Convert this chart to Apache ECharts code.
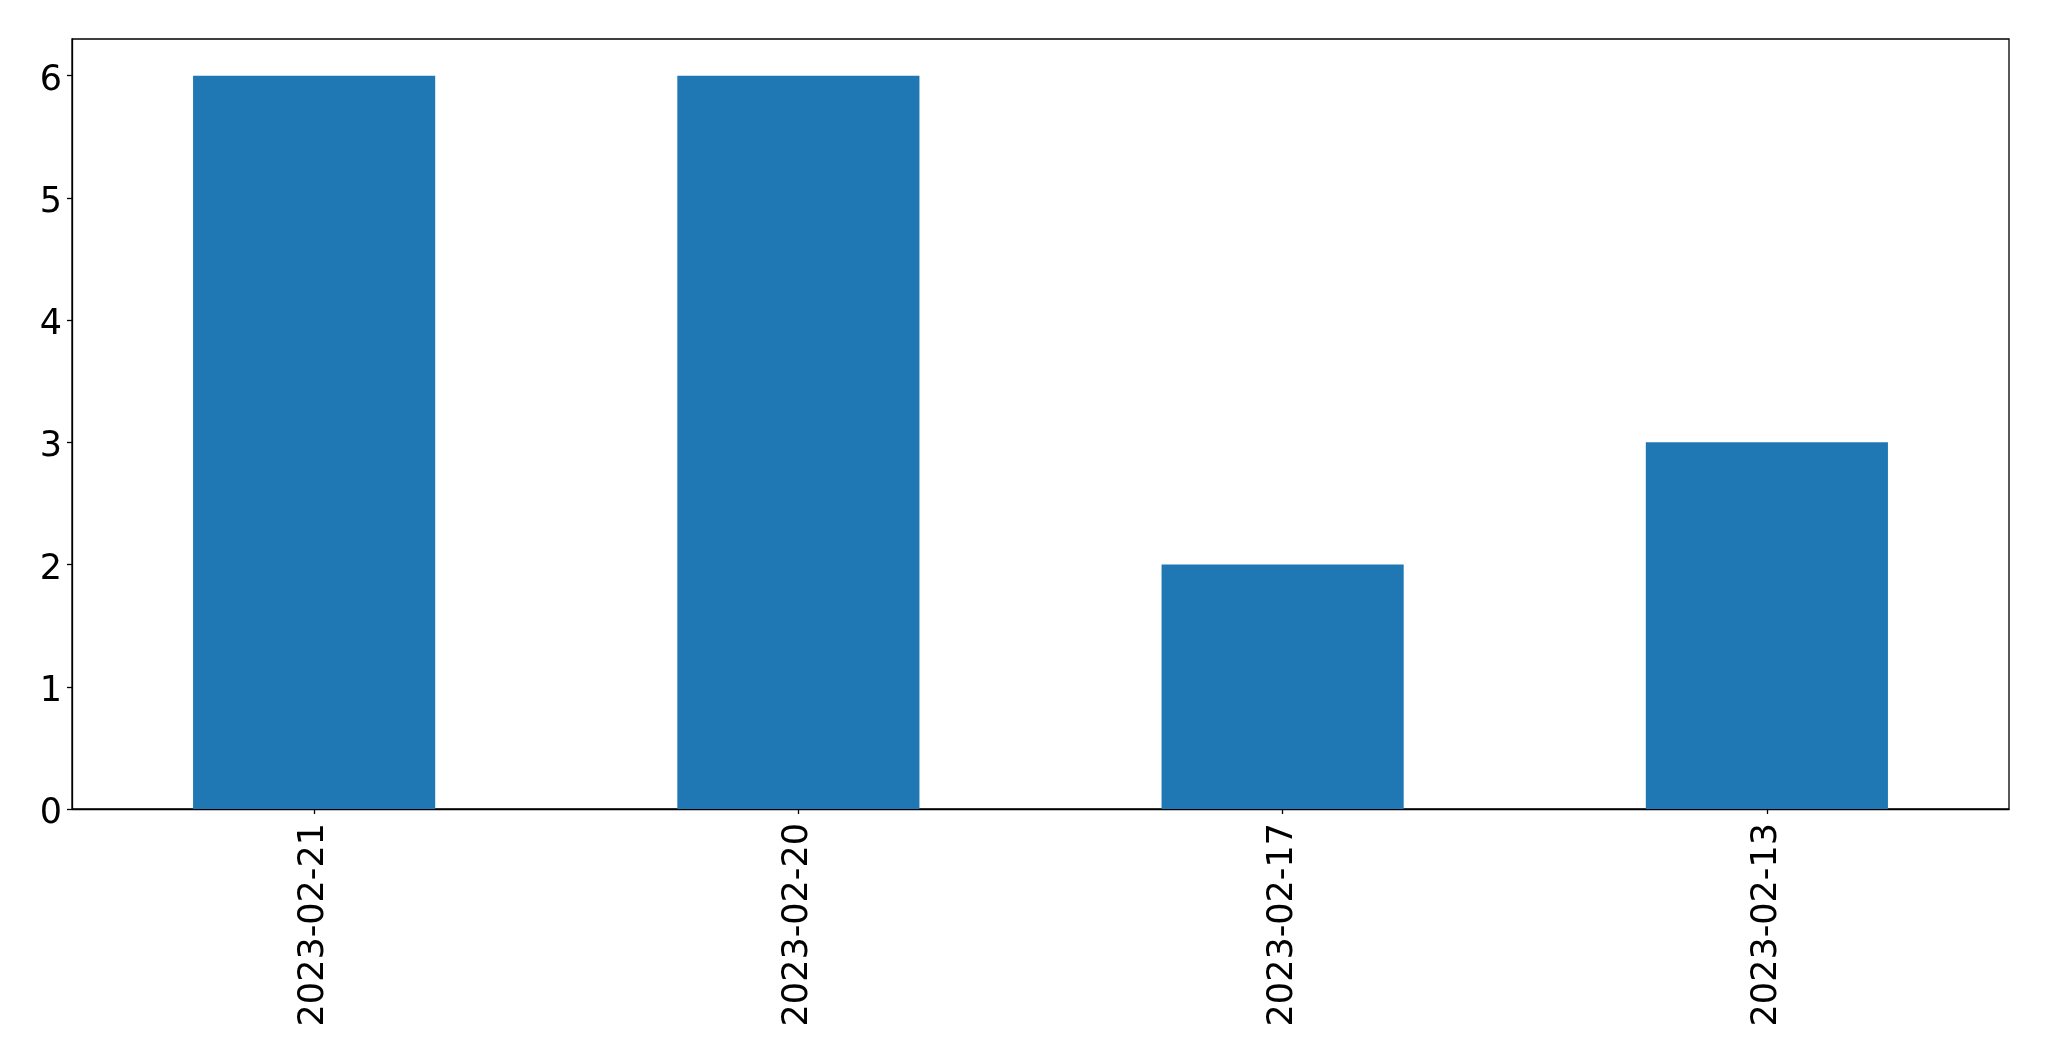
<!DOCTYPE html>
<html>
<head>
<meta charset="utf-8">
<script src="https://cdn.jsdelivr.net/npm/echarts@6/dist/echarts.min.js"></script>
<style>
html,body{margin:0;padding:0;background:#fff;}
#chart{width:2049px;height:1061px;}
</style>
</head>
<body>
<div id="chart"></div>
<script>
const categories = ['2023-02-21', '2023-02-20', '2023-02-17', '2023-02-13'];
const values = [6, 6, 2, 3];
const yTicks = [0, 1, 2, 3, 4, 5, 6];

const chart = echarts.init(document.getElementById('chart'), null, {renderer: 'canvas'});
const font = 'DejaVu Sans';
chart.setOption({
  animation: false,
  backgroundColor: '#ffffff',
  grid: {
    left: 72, right: 40, top: 39, bottom: 252,
    show: true, borderColor: '#000', borderWidth: 1.3, backgroundColor: 'transparent'
  },
  xAxis: {
    type: 'category',
    data: categories,
    axisLine: {show: true, lineStyle: {color: '#000', width: 1.3}},
    axisTick: {show: true, alignWithLabel: true, length: 5, lineStyle: {color: '#000', width: 1.3}},
    axisLabel: {rotate: 90, fontSize: 35, fontFamily: font, color: '#000', margin: 14, interval: 0},
    splitLine: {show: false}
  },
  yAxis: {
    type: 'value',
    min: 0, max: 6.3,
    axisLine: {show: true, lineStyle: {color: '#000', width: 1.3}},
    axisTick: {show: true, length: 5, lineStyle: {color: '#000', width: 1.3}, customValues: yTicks},
    axisLabel: {
      fontSize: 35, fontFamily: font, color: '#000', margin: 10, customValues: yTicks,
      formatter: function (v) { return '{a|' + v + '}'; },
      rich: {a: {fontSize: 35, fontFamily: font, color: '#000', padding: [10, 0, 0, 0]}}
    },
    splitLine: {show: false}
  },
  series: [{
    type: 'bar',
    data: values,
    barWidth: '50%',
    itemStyle: {color: '#1f77b4'}
  }]
});
</script>
</body>
</html>
